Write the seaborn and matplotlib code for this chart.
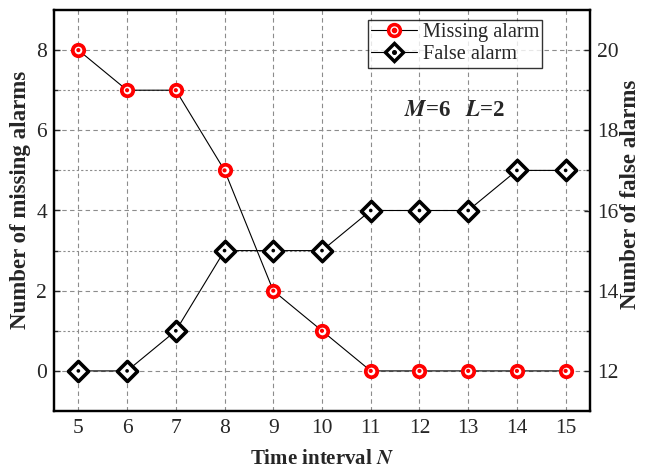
import matplotlib
matplotlib.use("Agg")
import matplotlib.pyplot as plt
from matplotlib.lines import Line2D
from matplotlib.legend_handler import HandlerTuple
import seaborn as sns
import pandas as pd

# Alarm counts versus the time interval N (M=6, L=2)
intervals = [5, 6, 7, 8, 9, 10, 11, 12, 13, 14, 15]
missing_alarms = [8, 7, 7, 5, 2, 1, 0, 0, 0, 0, 0]
false_alarms = [12, 12, 13, 15, 15, 15, 16, 16, 16, 17, 17]

df = pd.DataFrame({"N": intervals, "missing": missing_alarms, "false": false_alarms})

sns.set_style("white")
plt.rcParams["font.family"] = ["Liberation Serif", "DejaVu Serif"]
plt.rcParams["mathtext.fontset"] = "stix"

fig = plt.figure(figsize=(6.46, 4.69), dpi=100)
ax = fig.add_axes([54 / 646, 1 - 411 / 469, (590 - 54) / 646, (411 - 10) / 469])
ax2 = ax.twinx()

# grid: dashed majors, dotted minors on the left scale
ax.set_xlim(4.5, 15.5)
ax.set_ylim(-1, 9)
ax2.set_ylim(11, 21)
ax.set_xticks(intervals)
ax.set_yticks([0, 2, 4, 6, 8])
ax.set_yticks([1, 3, 5, 7], minor=True)
ax2.set_yticks([12, 14, 16, 18, 20])
ax2.set_yticks([13, 15, 17, 19], minor=True)
ax.grid(True, which="major", color="#8c8c8c", linestyle=(0, (4, 3)), linewidth=0.8)
ax.grid(True, which="minor", axis="y", color="#8c8c8c", linestyle=(0, (2, 2)), linewidth=0.8)
ax.set_axisbelow(True)

# connecting lines
sns.lineplot(data=df, x="N", y="missing", ax=ax, color="black", linewidth=0.8, zorder=3)
sns.lineplot(data=df, x="N", y="false", ax=ax2, color="black", linewidth=0.8, zorder=3)

# markers: ring/diamond with a small centre dot
sns.scatterplot(data=df, x="N", y="missing", ax=ax, marker="o", s=68, facecolor="white",
                edgecolor="#ff0000", linewidth=2.7, zorder=4, clip_on=False)
sns.scatterplot(data=df, x="N", y="missing", ax=ax, marker="o", s=9, color="#ff0000",
                edgecolor="none", zorder=5, clip_on=False)
sns.scatterplot(data=df, x="N", y="false", ax=ax2, marker="D", s=105, facecolor="white",
                edgecolor="black", linewidth=2.6, zorder=4, clip_on=False)
sns.scatterplot(data=df, x="N", y="false", ax=ax2, marker="o", s=7, color="black",
                edgecolor="none", zorder=5, clip_on=False)

for a in (ax, ax2):
    for side in a.spines.values():
        side.set_linewidth(1.6)
        side.set_color("black")

ax.tick_params(axis="both", which="both", direction="in", labelsize=15.5, length=4, width=1,
               right=False, top=False)
ax.tick_params(axis="y", which="minor", length=3)
ax.tick_params(axis="y", pad=5)
ax.tick_params(axis="x", pad=6)
ax2.tick_params(axis="y", which="both", direction="in", labelsize=15.5, length=4, width=1, pad=5)
ax2.tick_params(axis="y", which="minor", length=3)

ax.set_xlabel(r"Time interval $\boldsymbol{N}$", fontsize=15, fontweight="bold", labelpad=8)
ax.set_ylabel("Number of missing alarms", fontsize=16.5, fontweight="bold")
ax2.set_ylabel("Number of false alarms", fontsize=16.5, fontweight="bold")
ax.yaxis.set_label_coords(-0.063, 0.526)
ax2.yaxis.set_label_coords(1.076, 0.539)
ax.yaxis.label.set_va("center")
ax2.yaxis.label.set_va("center")

ax.text(11.68, 6.5, r"$\boldsymbol{M}$=6  $\;\boldsymbol{L}$=2", fontsize=16.5, fontweight="bold",
        ha="left", va="center", zorder=6)

h_miss = (Line2D([], [], color="black", linewidth=0.8, marker="o", markersize=8.5,
                 markerfacecolor="white", markeredgecolor="#ff0000", markeredgewidth=2.5),
          Line2D([], [], linestyle="none", marker="o", markersize=3, color="#ff0000"))
h_false = (Line2D([], [], color="black", linewidth=0.8, marker="D", markersize=9,
                  markerfacecolor="white", markeredgecolor="black", markeredgewidth=2.5),
           Line2D([], [], linestyle="none", marker="o", markersize=2.6, color="black"))
leg = ax2.legend([h_miss, h_false], ["Missing alarm", "False alarm"],
                 handler_map={tuple: HandlerTuple(ndivide=1)},
                 loc="upper right", bbox_to_anchor=((542 - 54) / 536, 1 - 10 / 401),
                 fontsize=14.6, frameon=True, fancybox=False, edgecolor="black",
                 handlelength=2.25, handletextpad=0.3, borderpad=0.15, labelspacing=0.15,
                 borderaxespad=0)
leg.get_frame().set_linewidth(1.0)
leg.set_zorder(10)

fig.savefig("out.png", dpi=100)
